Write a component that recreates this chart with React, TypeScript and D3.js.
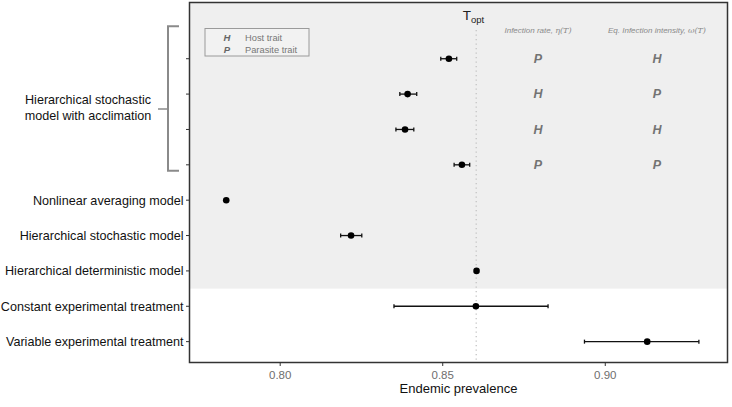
import React from "react";
import * as d3 from "d3";

const categories = [
  "header",
  "acclim1",
  "acclim2",
  "acclim3",
  "acclim4",
  "Nonlinear averaging model",
  "Hierarchical stochastic model",
  "Hierarchical deterministic model",
  "Constant experimental treatment",
  "Variable experimental treatment",
];
const axisLabels = ["", "", "", "", "", "Nonlinear averaging model", "Hierarchical stochastic model", "Hierarchical deterministic model", "Constant experimental treatment", "Variable experimental treatment"];
const estimates = [NaN, 0.8519, 0.8392, 0.8384, 0.8559, 0.7834, 0.8218, 0.8604, 0.8602, 0.9129];
const lower = [NaN, 0.8494, 0.8368, 0.8356, 0.8535, NaN, 0.8186, NaN, 0.835, 0.8936];
const upper = [NaN, 0.8543, 0.842, 0.8411, 0.8583, NaN, 0.8251, NaN, 0.8824, 0.9288];
const infectionRate = ["", "P", "H", "H", "P", "", "", "", "", ""];
const infectionIntensity = ["", "H", "P", "H", "P", "", "", "", "", ""];
const xTicks = [0.8, 0.85, 0.9];
const tOpt = 0.8603;
const xDomain = [0.7721, 0.9376];

const W = 732;
const H = 407;
const panel = { left: 189.5, right: 727.5, top: 2.5, bottom: 362.5 };
const FONT = "'Liberation Sans', Arial, Helvetica, sans-serif";

export default function App() {
  const x = d3.scaleLinear().domain(xDomain).range([panel.left, panel.right]);
  const y = d3.scalePoint<string>().domain(categories).range([panel.top, panel.bottom]).padding(0.59);
  const grayBottom = (y(categories[7])! + y(categories[8])!) / 2;
  const col1 = 538;
  const col2 = 657;
  const headerY = y(categories[0])! + 9.5;
  const bracketTop = y(categories[1])! - 32.5;
  const bracketBottom = y(categories[4])! + 6;
  const bracketMid = 109;
  const cap = 2;

  return (
    <svg width={W} height={H} style={{ position: "absolute", left: 0, top: 0, fontFamily: FONT }}>
      <rect x={0} y={0} width={W} height={H} fill="#ffffff" />
      <rect x={panel.left} y={panel.top} width={panel.right - panel.left} height={grayBottom - panel.top} fill="#efefef" />
      <line x1={x(tOpt)} x2={x(tOpt)} y1={30} y2={panel.bottom} stroke="#c4c4c4" strokeWidth={1.3} strokeDasharray="1.3,3.2" />
      <text x={x(tOpt) - 13.5} y={20} fontSize={13.5} fill="#222">
        T<tspan fontSize={9.5} dy={3}>opt</tspan>
      </text>
      <text x={col1} y={headerY} fontSize={8} fill="#8a8a8a" fontStyle="italic" textAnchor="middle">
        Infection rate,{"  "}<tspan fontFamily="'DejaVu Serif', serif" fontStyle="italic">η(T)</tspan>
      </text>
      <text x={col2} y={headerY} fontSize={8} fill="#8a8a8a" fontStyle="italic" textAnchor="middle">
        Eq. Infection intensity,{"  "}<tspan fontFamily="'DejaVu Serif', serif" fontStyle="italic">ω(T)</tspan>
      </text>
      {categories.map((c, i) => (
        <g key={"letters" + i}>
          {infectionRate[i] && (
            <text x={col1} y={y(c)! + 4.3} fontSize={12.5} fontWeight="bold" fontStyle="italic" fill="#737373" textAnchor="middle">
              {infectionRate[i]}
            </text>
          )}
          {infectionIntensity[i] && (
            <text x={col2} y={y(c)! + 4.3} fontSize={12.5} fontWeight="bold" fontStyle="italic" fill="#737373" textAnchor="middle">
              {infectionIntensity[i]}
            </text>
          )}
        </g>
      ))}
      <rect x={205} y={28.5} width={104} height={27.5} fill="#f2f2f2" stroke="#9a9a9a" strokeWidth={1} />
      <text x={227} y={41} fontSize={9.5} fontWeight="bold" fontStyle="italic" fill="#666" textAnchor="middle">H</text>
      <text x={245} y={41} fontSize={9.3} fill="#777">Host trait</text>
      <text x={227} y={52.5} fontSize={9.5} fontWeight="bold" fontStyle="italic" fill="#666" textAnchor="middle">P</text>
      <text x={245} y={52.5} fontSize={9.3} fill="#777">Parasite trait</text>
      {categories.map((c, i) => {
        const cy = y(c)!;
        if (isNaN(estimates[i])) return null;
        return (
          <g key={"pt" + i}>
            {!isNaN(lower[i]) && (
              <g stroke="#111" strokeWidth={1.3}>
                <line x1={x(lower[i])} x2={x(upper[i])} y1={cy} y2={cy} />
                <line x1={x(lower[i])} x2={x(lower[i])} y1={cy - cap} y2={cy + cap} />
                <line x1={x(upper[i])} x2={x(upper[i])} y1={cy - cap} y2={cy + cap} />
              </g>
            )}
            <circle cx={x(estimates[i])} cy={cy} r={3.3} fill="#000" />
          </g>
        );
      })}
      <rect x={panel.left} y={panel.top} width={panel.right - panel.left} height={panel.bottom - panel.top} fill="none" stroke="#333" strokeWidth={1.5} />
      {categories.slice(1).map((c, i) => (
        <g key={"yt" + i}>
          <line x1={panel.left - 3.5} x2={panel.left} y1={y(c)!} y2={y(c)!} stroke="#333" strokeWidth={1} />
          <text x={panel.left - 6} y={y(c)! + 4.4} fontSize={12.6} fill="#111" textAnchor="end">
            {axisLabels[i + 1]}
          </text>
        </g>
      ))}
      {xTicks.map((t) => (
        <g key={"xt" + t}>
          <line x1={x(t)} x2={x(t)} y1={panel.bottom} y2={panel.bottom + 3.5} stroke="#333" strokeWidth={1} />
          <text x={x(t)} y={panel.bottom + 16} fontSize={11.5} fill="#6e6e6e" textAnchor="middle">
            {d3.format(".2f")(t)}
          </text>
        </g>
      ))}
      <text x={(panel.left + panel.right) / 2} y={393} fontSize={13} fill="#111" textAnchor="middle">
        Endemic prevalence
      </text>
      <path
        d={`M${panel.left - 10.5},${bracketTop} H168 V${bracketBottom} H${panel.left - 10.5}`}
        fill="none"
        stroke="#8a8a8a"
        strokeWidth={2}
      />
      <line x1={158} x2={168} y1={bracketMid} y2={bracketMid} stroke="#8a8a8a" strokeWidth={1.5} />
      <text x={88} y={104} fontSize={12.6} fill="#111" textAnchor="middle">Hierarchical stochastic</text>
      <text x={88} y={119.5} fontSize={12.6} fill="#111" textAnchor="middle">model with acclimation</text>
    </svg>
  );
}
